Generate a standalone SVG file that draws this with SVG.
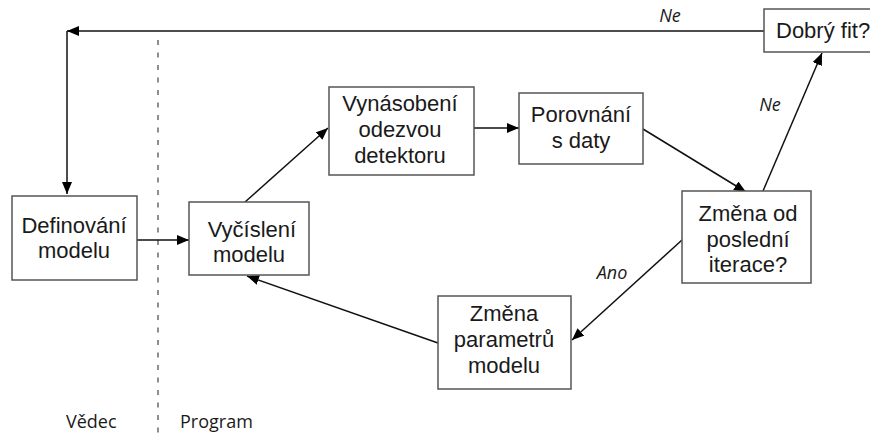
<svg xmlns="http://www.w3.org/2000/svg" width="870" height="437" viewBox="0 0 870 437">
<style>
.box{fill:#fff;stroke:#555;stroke-width:1.5}
.t{font-family:"Liberation Sans",Arial,sans-serif;font-size:22px;fill:#1a1a1a;text-anchor:middle}
.lbl{font-family:"Open Sans",sans-serif;font-size:18px;font-style:italic;fill:#1a1a1a;text-anchor:middle}
.side{font-family:"Open Sans",sans-serif;font-size:18px;fill:#1a1a1a}
.c{stroke:#111;stroke-width:1.5;fill:none}
</style>
<defs>
<marker id="ah" viewBox="0 0 12 10" refX="12" refY="5" markerWidth="12" markerHeight="10" markerUnits="userSpaceOnUse" orient="auto">
<path d="M0,0 L12,5 L0,10 Z" fill="#000"/>
</marker>
</defs>
<rect width="870" height="437" fill="#fff"/>
<line x1="158" y1="40" x2="158" y2="437" stroke="#444" stroke-width="1.2" stroke-dasharray="5 7.5"/>
<g id="connectors">
<line class="c" x1="764" y1="31" x2="67" y2="31" marker-end="url(#ah)"/>
<line class="c" x1="67" y1="31" x2="67" y2="194" marker-end="url(#ah)"/>
<line class="c" x1="137" y1="240" x2="189" y2="240" marker-end="url(#ah)"/>
<line class="c" x1="245" y1="202" x2="328" y2="128" marker-end="url(#ah)"/>
<line class="c" x1="474" y1="128" x2="519" y2="128" marker-end="url(#ah)"/>
<line class="c" x1="643" y1="129" x2="746" y2="192" marker-end="url(#ah)"/>
<line class="c" x1="763" y1="191" x2="822" y2="53" marker-end="url(#ah)"/>
<line class="c" x1="682" y1="240" x2="572" y2="340" marker-end="url(#ah)"/>
<line class="c" x1="438" y1="343" x2="247" y2="276" marker-end="url(#ah)"/>
<text class="lbl" x="670" y="22">Ne</text>
<text class="lbl" x="770" y="111">Ne</text>
<text class="lbl" x="612" y="279">Ano</text>
</g>
<g id="definovani">
<rect class="box" x="12" y="196" width="125" height="84"/>
<text class="t" x="74" y="233">Definování</text>
<text class="t" x="74" y="258">modelu</text>
</g>
<g id="vycisleni">
<rect class="box" x="189" y="202" width="120" height="73"/>
<text class="t" x="252" y="237">Vyčíslení</text>
<text class="t" x="249" y="262">modelu</text>
</g>
<g id="vynasobeni">
<rect class="box" x="329" y="87" width="145" height="88"/>
<text class="t" x="400" y="111">Vynásobení</text>
<text class="t" x="400" y="137">odezvou</text>
<text class="t" x="400" y="163">detektoru</text>
</g>
<g id="porovnani">
<rect class="box" x="519" y="93" width="124" height="71"/>
<text class="t" x="581" y="122">Porovnání</text>
<text class="t" x="581" y="148">s daty</text>
</g>
<g id="zmena-od">
<rect class="box" x="682" y="191" width="129" height="92"/>
<text class="t" x="748" y="221">Změna od</text>
<text class="t" x="748" y="247">poslední</text>
<text class="t" x="748" y="272">iterace?</text>
</g>
<g id="zmena-parametru">
<rect class="box" x="438" y="296" width="133" height="93"/>
<text class="t" x="504" y="321">Změna</text>
<text class="t" x="504" y="347">parametrů</text>
<text class="t" x="504" y="373">modelu</text>
</g>
<g id="dobry-fit">
<rect class="box" x="764" y="9" width="120" height="43"/>
<text class="t" x="776" y="38" style="text-anchor:start">Dobrý fit?</text>
</g>
<text class="side" x="66" y="428">Vědec</text>
<text class="side" x="180" y="428">Program</text>
</svg>
